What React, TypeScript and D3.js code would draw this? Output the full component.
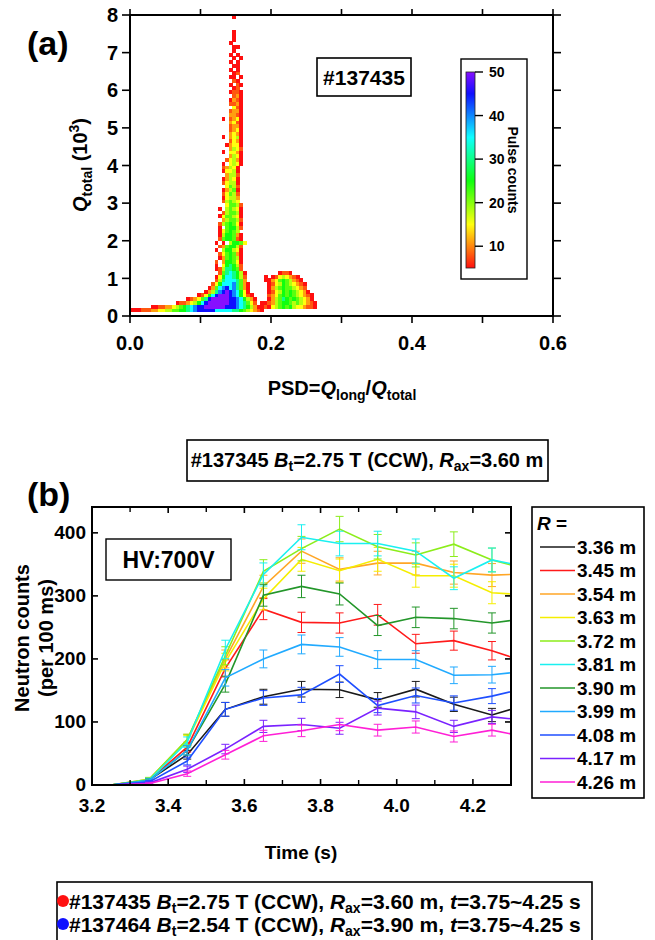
import React from 'react';
import * as d3 from 'd3';

const W = 655;
const H = 940;
const FONT = "'Liberation Sans', Arial, Helvetica, sans-serif";

// ---------- Panel (a): PSD histogram ----------
const PSD_TICKS = [0, 0.2, 0.4, 0.6];
const PSD_TICK_LABELS = ['0.0', '0.2', '0.4', '0.6'];
const PSD_MINOR = [0.1, 0.3, 0.5];
const Q_TICKS = [0, 1, 2, 3, 4, 5, 6, 7, 8];
const CB_TICKS = [10, 20, 30, 40, 50];
const PSD_BIN = 0.005;
const Q_BIN = 0.1;
const LEVEL_CHARS = '123456789abc';
const LEVEL_VALUES = [5, 8, 11, 15, 18, 22, 25, 30, 35, 40, 45, 50];
// [Q row index, first PSD column, levels per column ('.' = empty)]
const HEAT_ROWS: [number, number, string][] = [
  [1, 0, '111222334455667789abbbbb99999887654321'],
  [2, 6, '112233456789abbccccccbbba9875311214567675443221'],
  [3, 13, '12234579bccccccbba98642.1123567765654321'],
  [4, 16, '123468bcccccbba97531...1356876765431'],
  [5, 19, '12479bcccba97421....2346767654321'],
  [6, 21, '1358abcba9741.....124576765431'],
  [7, 22, '1369ab9a8631.....13567665432'],
  [8, 23, '247999a8631.....12457654321'],
  [9, 24, '258999863.....11346765321'],
  [10, 24, '147998752.....1.12454321'],
  [11, 25, '26898751'],
  [11, 42, '1221'],
  [12, 24, '12588762'],
  [13, 24, '1.478752'],
  [14, 24, '2.377641'],
  [15, 25, '1367651'],
  [16, 25, '2467631'],
  [17, 24, '1.577541'],
  [18, 25, '2367752'],
  [19, 24, '1.1.57764'],
  [20, 25, '2677621'],
  [21, 25, '1577631'],
  [22, 25, '146765.'],
  [23, 25, '1.67752'],
  [24, 25, '2567641'],
  [25, 25, '.356652'],
  [26, 25, '1466541'],
  [27, 25, '.256651'],
  [28, 25, '1.56541'],
  [29, 25, '..46652'],
  [30, 26, '25654'],
  [31, 26, '14553'],
  [32, 26, '24652'],
  [33, 26, '13561'],
  [34, 26, '.4652'],
  [35, 26, '24551'],
  [36, 26, '13541'],
  [37, 26, '.3552'],
  [38, 26, '14451'],
  [39, 26, '23541'],
  [40, 26, '1.4541'],
  [41, 26, '.24531'],
  [42, 26, '..3541'],
  [43, 26, '1.4431'],
  [44, 26, '..3542'],
  [45, 26, '.13441'],
  [46, 26, '..2431'],
  [47, 26, '1.3451'],
  [48, 26, '..3431'],
  [49, 26, '..2341'],
  [50, 26, '..2331'],
  [51, 26, '..3421'],
  [52, 26, '1.2341'],
  [53, 26, '..3321'],
  [54, 26, '..2331'],
  [55, 26, '...421'],
  [56, 26, '..2231'],
  [57, 26, '..1321'],
  [58, 26, '...231'],
  [59, 26, '..1221'],
  [60, 26, '...12.'],
  [61, 26, '..1.21'],
  [62, 26, '...21.'],
  [63, 26, '..11.1'],
  [64, 26, '...12.'],
  [65, 26, '..1.1.'],
  [66, 26, '...11.'],
  [67, 26, '..1.1.'],
  [68, 26, '...1.1'],
  [69, 26, '..1.1.'],
  [70, 26, '...1..'],
  [71, 26, '...11.'],
  [72, 26, '..1...'],
  [73, 26, '...1..'],
  [74, 26, '...1..'],
  [75, 26, '...1..'],
  [79, 26, '...1..'],
];

// ---------- Panel (b): neutron counts vs time ----------
const TIMES = [3.2, 3.25, 3.35, 3.45, 3.55, 3.65, 3.75, 3.85, 3.95, 4.05, 4.15, 4.25, 4.3];
const ERR_FROM = 2;
const ERR_TO = 11;
const T_TICKS = [3.2, 3.4, 3.6, 3.8, 4.0, 4.2];
const T_TICK_LABELS = ['3.2', '3.4', '3.6', '3.8', '4.0', '4.2'];
const T_MINOR = [3.3, 3.5, 3.7, 3.9, 4.1, 4.3];
const N_TICKS = [0, 100, 200, 300, 400];
const R_LABELS = ['3.36 m', '3.45 m', '3.54 m', '3.63 m', '3.72 m', '3.81 m', '3.90 m', '3.99 m', '4.08 m', '4.17 m', '4.26 m'];
const R_COLORS = ['#1a1a1a', '#ff1a1a', '#ffa626', '#f5ee00', '#8ced1a', '#1af0f0', '#23962a', '#21aaff', '#1f4fff', '#7a22ff', '#ff1fd6'];
const N_336 = [0, 0, 8, 48, 120, 140, 152, 151, 135, 152, 128, 111, 120];
const N_345 = [0, 0, 8, 60, 185, 279, 258, 257, 270, 224, 229, 213, 203];
const N_354 = [0, 0, 9, 72, 200, 315, 371, 342, 352, 352, 337, 333, 334];
const N_363 = [0, 0, 8, 70, 195, 295, 358, 340, 358, 332, 332, 305, 303];
const N_372 = [0, 0, 9, 72, 205, 339, 375, 406, 378, 365, 382, 357, 349];
const N_381 = [0, 0, 8, 68, 215, 334, 393, 383, 383, 371, 328, 357, 351];
const N_390 = [0, 0, 7, 55, 160, 301, 315, 303, 253, 266, 264, 257, 261];
const N_399 = [0, 0, 7, 55, 170, 200, 223, 219, 199, 199, 174, 175, 178];
const N_408 = [0, 0, 5, 38, 120, 138, 143, 176, 126, 142, 130, 141, 148];
const N_417 = [0, 0, 3, 25, 57, 93, 96, 90, 122, 116, 93, 108, 105];
const N_426 = [0, 0, 2, 18, 48, 78, 86, 96, 87, 92, 77, 87, 81];
const N_SERIES = [N_336, N_345, N_354, N_363, N_372, N_381, N_390, N_399, N_408, N_417, N_426];

const pulseColor = (v: number) => d3.hsl((v - 5) * 6, 1, 0.53).formatHex();

function App() {
  // Panel (a) scales
  const xA = d3.scaleLinear().domain([0, 0.6]).range([130, 553]);
  const yA = d3.scaleLinear().domain([0, 8]).range([316, 15]);
  const cb = d3.scaleLinear().domain([5, 50]).range([268, 72]);

  const cells: { psd: number; q: number; v: number }[] = [];
  HEAT_ROWS.forEach(([r, c0, s]) => {
    for (let i = 0; i < s.length; i++) {
      const k = LEVEL_CHARS.indexOf(s[i]);
      if (k < 0) continue;
      cells.push({ psd: (c0 + i) * PSD_BIN, q: r * Q_BIN, v: LEVEL_VALUES[k] });
    }
  });
  const cw = xA(PSD_BIN) - xA(0);
  const ch = yA(0) - yA(Q_BIN);

  const gradStops = d3.range(5, 50.01, 2.5);

  // Panel (b) scales
  const xB = d3.scaleLinear().domain([3.2, 4.3]).range([92, 511]);
  const yB = d3.scaleLinear().domain([0, 441]).range([785, 507]);
  const line = d3
    .line<number>()
    .x((_, i) => xB(TIMES[i]))
    .y((d) => yB(d));

  const bold = { fontFamily: FONT, fontWeight: 700 } as const;

  return (
    <div style={{ position: 'absolute', left: 0, top: 0 }}>
      <svg width={W} height={H} viewBox={`0 0 ${W} ${H}`} style={{ display: 'block', background: '#fff' }}>
        <defs>
          <linearGradient id="cbgrad" x1="0" y1="1" x2="0" y2="0">
            {gradStops.map((v) => (
              <stop key={v} offset={(v - 5) / 45} stopColor={pulseColor(v)} />
            ))}
          </linearGradient>
          <clipPath id="clipB">
            <rect x={92} y={507} width={419} height={278} />
          </clipPath>
        </defs>

        {/* ================= Panel (a) ================= */}
        <text x={27} y={55} fontSize={34} {...bold}>(a)</text>

        <g shapeRendering="crispEdges">
          {cells.map((c, i) => (
            <rect key={i} x={xA(c.psd)} y={yA(c.q + Q_BIN)} width={cw + 0.3} height={ch + 0.2} fill={pulseColor(c.v)} />
          ))}
        </g>

        {/* frame */}
        <rect x={130} y={15} width={423} height={301} fill="none" stroke="#000" strokeWidth={2} />
        {PSD_TICKS.concat(PSD_MINOR).map((t) => (
          <g key={'xa' + t}>
            <line x1={xA(t)} x2={xA(t)} y1={316} y2={323} stroke="#000" strokeWidth={1.6} />
            <line x1={xA(t)} x2={xA(t)} y1={15} y2={9} stroke="#000" strokeWidth={1.6} />
          </g>
        ))}
        {PSD_TICKS.map((t, i) => (
          <text key={'xal' + t} x={xA(t)} y={350} textAnchor="middle" fontSize={20} {...bold}>
            {PSD_TICK_LABELS[i]}
          </text>
        ))}
        {Q_TICKS.map((t) => (
          <g key={'ya' + t}>
            <line x1={122} x2={130} y1={yA(t)} y2={yA(t)} stroke="#000" strokeWidth={1.6} />
            <line x1={553} x2={561} y1={yA(t)} y2={yA(t)} stroke="#000" strokeWidth={1.6} />
            <text x={118} y={yA(t)} dy="0.36em" textAnchor="end" fontSize={20} {...bold}>
              {t}
            </text>
          </g>
        ))}
        <text transform="translate(87,165) rotate(-90)" textAnchor="middle" fontSize={20} {...bold}>
          <tspan fontStyle="italic">Q</tspan>
          <tspan fontSize={14} dy={5}>total</tspan>
          <tspan dy={-5}> (10</tspan>
          <tspan fontSize={14} dy={-8}>3</tspan>
          <tspan dy={8}>)</tspan>
        </text>
        <text x={342} y={395} textAnchor="middle" fontSize={20} {...bold}>
          <tspan>PSD=</tspan>
          <tspan fontStyle="italic">Q</tspan>
          <tspan fontSize={14} dy={5}>long</tspan>
          <tspan dy={-5}>/</tspan>
          <tspan fontStyle="italic">Q</tspan>
          <tspan fontSize={14} dy={5}>total</tspan>
        </text>

        {/* shot label */}
        <rect x={317} y={58} width={94} height={38} fill="#fff" stroke="#000" strokeWidth={1.6} />
        <text x={364} y={84.5} textAnchor="middle" fontSize={21} {...bold}>#137435</text>

        {/* colorbar */}
        <rect x={461} y={59} width={66} height={220} fill="#fff" stroke="#000" strokeWidth={1.4} />
        <rect x={466} y={cb(50)} width={9} height={cb(5) - cb(50)} fill="url(#cbgrad)" stroke="#222" strokeWidth={0.8} />
        {CB_TICKS.map((t) => (
          <g key={'cb' + t}>
            <line x1={475} x2={483} y1={cb(t)} y2={cb(t)} stroke="#000" strokeWidth={1.4} />
            <text x={489} y={cb(t)} dy="0.36em" fontSize={14} {...bold}>{t}</text>
          </g>
        ))}
        <text transform="translate(508,170) rotate(90)" textAnchor="middle" fontSize={14} {...bold}>
          Pulse counts
        </text>

        {/* shot info box */}
        <rect x={187} y={440} width={361} height={41} fill="#fff" stroke="#000" strokeWidth={1.6} />
        <text x={367} y={467} textAnchor="middle" fontSize={20} {...bold}>
          <tspan>#137345 </tspan>
          <tspan fontStyle="italic">B</tspan>
          <tspan fontSize={14} dy={4}>t</tspan>
          <tspan dy={-4}>=2.75 T (CCW), </tspan>
          <tspan fontStyle="italic">R</tspan>
          <tspan fontSize={14} dy={4}>ax</tspan>
          <tspan dy={-4}>=3.60 m</tspan>
        </text>

        {/* ================= Panel (b) ================= */}
        <text x={27} y={506} fontSize={34} {...bold}>(b)</text>

        <g clipPath="url(#clipB)">
          {N_SERIES.map((s, k) => (
            <g key={'s' + k}>
              <path d={line(s) || ''} fill="none" stroke={R_COLORS[k]} strokeWidth={1.6} />
              {s.map((v, i) => {
                if (i < ERR_FROM || i > ERR_TO) return null;
                const e = Math.sqrt(v); // Poisson counting error
                const x = xB(TIMES[i]);
                return (
                  <g key={i} stroke={R_COLORS[k]} strokeWidth={1}>
                    <line x1={x} x2={x} y1={yB(v + e)} y2={yB(v - e)} />
                    <line x1={x - 4} x2={x + 4} y1={yB(v + e)} y2={yB(v + e)} />
                    <line x1={x - 4} x2={x + 4} y1={yB(v - e)} y2={yB(v - e)} />
                  </g>
                );
              })}
            </g>
          ))}
        </g>

        <rect x={92} y={507} width={419} height={278} fill="none" stroke="#000" strokeWidth={2} />
        {T_TICKS.map((t) => (
          <g key={'xb' + t}>
            <line x1={xB(t)} x2={xB(t)} y1={785} y2={779} stroke="#000" strokeWidth={1.6} />
            <line x1={xB(t)} x2={xB(t)} y1={507} y2={513} stroke="#000" strokeWidth={1.6} />
          </g>
        ))}
        {T_MINOR.map((t) => (
          <g key={'xbm' + t}>
            <line x1={xB(t)} x2={xB(t)} y1={785} y2={780} stroke="#000" strokeWidth={1.4} />
            <line x1={xB(t)} x2={xB(t)} y1={507} y2={512} stroke="#000" strokeWidth={1.4} />
          </g>
        ))}
        {T_TICKS.map((t, i) => (
          <text key={'xbl' + t} x={xB(t)} y={812} textAnchor="middle" fontSize={19} {...bold}>
            {T_TICK_LABELS[i]}
          </text>
        ))}
        {N_TICKS.map((t) => (
          <g key={'yb' + t}>
            <line x1={92} x2={98} y1={yB(t)} y2={yB(t)} stroke="#000" strokeWidth={1.6} />
            <line x1={511} x2={505} y1={yB(t)} y2={yB(t)} stroke="#000" strokeWidth={1.6} />
            <text x={86} y={yB(t)} dy="0.34em" textAnchor="end" fontSize={19} {...bold}>
              {t}
            </text>
          </g>
        ))}
        <text x={301} y={859} textAnchor="middle" fontSize={19} {...bold}>Time (s)</text>
        <text transform="translate(29,638) rotate(-90)" textAnchor="middle" fontSize={20} {...bold}>
          Neutron counts
        </text>
        <text transform="translate(53,638) rotate(-90)" textAnchor="middle" fontSize={20} {...bold}>
          (per 100 ms)
        </text>

        {/* HV label */}
        <rect x={106} y={539} width={125} height={41} fill="#fff" stroke="#000" strokeWidth={1.4} />
        <text x={168.5} y={568} textAnchor="middle" fontSize={23} {...bold}>HV:700V</text>

        {/* legend */}
        <rect x={532} y={507} width={112} height={291} fill="#fff" stroke="#000" strokeWidth={1.6} />
        <text x={537} y={530} fontSize={19} {...bold}>
          <tspan fontStyle="italic">R</tspan>
          <tspan> =</tspan>
        </text>
        {R_LABELS.map((lab, k) => {
          const y = 547 + k * 23.5;
          return (
            <g key={'lg' + k}>
              <line x1={540} x2={575} y1={y} y2={y} stroke={R_COLORS[k]} strokeWidth={1.6} />
              <text x={577} y={y} dy="0.36em" fontSize={19} {...bold}>{lab}</text>
            </g>
          );
        })}

        {/* bottom info box */}
        <rect x={57} y={882} width={535} height={64} fill="#fff" stroke="#000" strokeWidth={1.6} />
        <circle cx={63} cy={901} r={6} fill="#ff1010" />
        <circle cx={63} cy={924} r={6} fill="#1010ff" />
        {[
          ['#137435 ', '=2.75 T (CCW), ', '=3.60 m, ', 901],
          ['#137464 ', '=2.54 T (CCW), ', '=3.90 m, ', 924],
        ].map(([shot, bt, rax, y], i) => (
          <text key={'bi' + i} x={69} y={Number(y)} dy="0.36em" fontSize={21} {...bold}>
            <tspan>{shot}</tspan>
            <tspan fontStyle="italic">B</tspan>
            <tspan fontSize={14} dy={4}>t</tspan>
            <tspan dy={-4}>{bt}</tspan>
            <tspan fontStyle="italic">R</tspan>
            <tspan fontSize={14} dy={4}>ax</tspan>
            <tspan dy={-4}>{rax}</tspan>
            <tspan fontStyle="italic">t</tspan>
            <tspan>=3.75~4.25 s</tspan>
          </text>
        ))}
      </svg>
    </div>
  );
}

export default App;
